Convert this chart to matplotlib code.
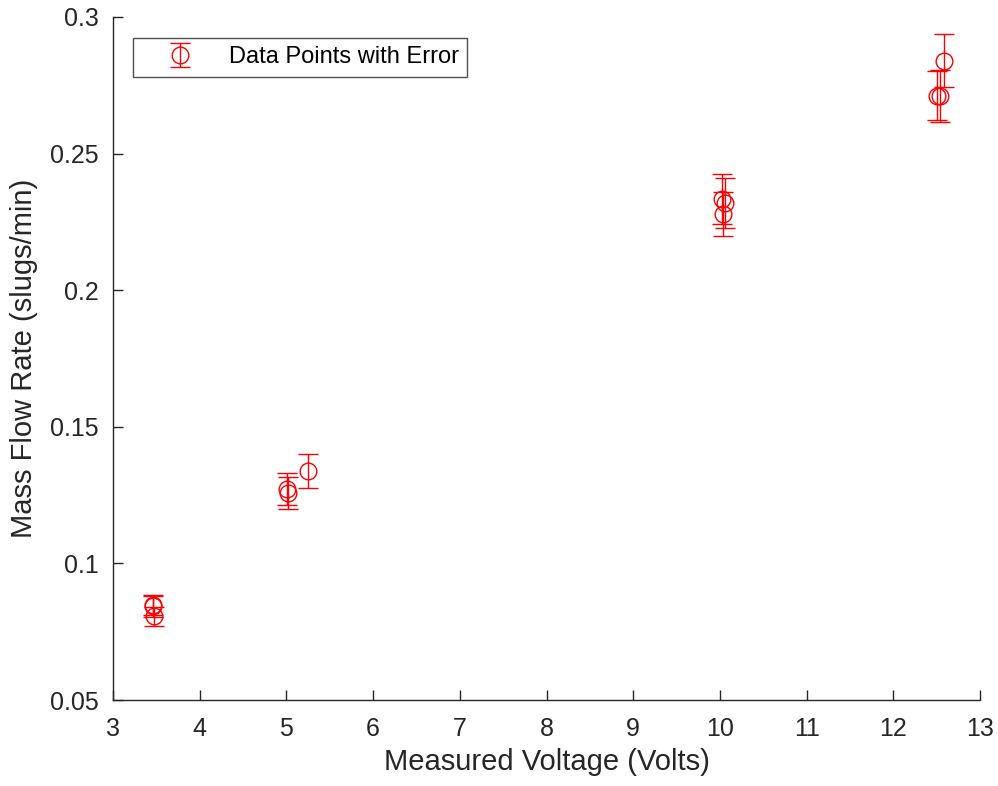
import numpy as np
import matplotlib.pyplot as plt

plt.rcParams['font.family'] = ['Liberation Sans', 'DejaVu Sans']

# measured voltage and mass flow rate, three trials per setting
voltage = [3.46, 3.46, 3.47, 5.01, 5.02, 5.25, 10.02, 10.06, 10.03, 12.50, 12.54, 12.58]
mass_flow = [0.0848, 0.0843, 0.0806, 0.1272, 0.1258, 0.1337, 0.2335, 0.2318, 0.2280,
             0.2712, 0.2710, 0.2840]
flow_err = [0.0038, 0.0038, 0.0035, 0.0060, 0.0058, 0.0062, 0.0092, 0.0092, 0.0080,
            0.0090, 0.0095, 0.0097]

fig = plt.figure(figsize=(9.98, 7.86), dpi=100)
ax = fig.add_axes([113 / 998, 1 - 700 / 786, (980 - 113) / 998, (700 - 17) / 786])

ax.errorbar(voltage, mass_flow, yerr=flow_err, fmt='o', color='red',
            mfc='none', ms=12, mew=1.0, elinewidth=1.0, capsize=7, capthick=1.0,
            label='Data Points with Error')

ax.set_xlim(3, 13)
ax.set_ylim(0.05, 0.3)
ax.set_xticks(range(3, 14))
ax.set_yticks([0.05, 0.1, 0.15, 0.2, 0.25, 0.3])
ax.set_yticklabels(['0.05', '0.1', '0.15', '0.2', '0.25', '0.3'])

for side in ['top', 'right']:
    ax.spines[side].set_visible(False)
for side in ['left', 'bottom']:
    ax.spines[side].set_color('#262626')
    ax.spines[side].set_linewidth(1.0)
ax.tick_params(direction='in', length=7, width=1.0, colors='#262626', labelsize=18)
ax.tick_params(axis='x', pad=12)
ax.tick_params(axis='y', pad=10)

ax.set_xlabel('Measured Voltage (Volts)', fontsize=21, color='#262626', labelpad=5)
ax.set_ylabel('Mass Flow Rate (slugs/min)', fontsize=21, color='#262626', labelpad=9)

leg = ax.legend(loc='upper left', bbox_to_anchor=(20 / 867, 1 - 21 / 683),
                borderaxespad=0, fontsize=17, frameon=True, fancybox=False,
                edgecolor='#262626', handlelength=3.3, handletextpad=0.4,
                borderpad=0.35)
leg.get_frame().set_linewidth(1.0)

fig.savefig('out.png', dpi=100)
